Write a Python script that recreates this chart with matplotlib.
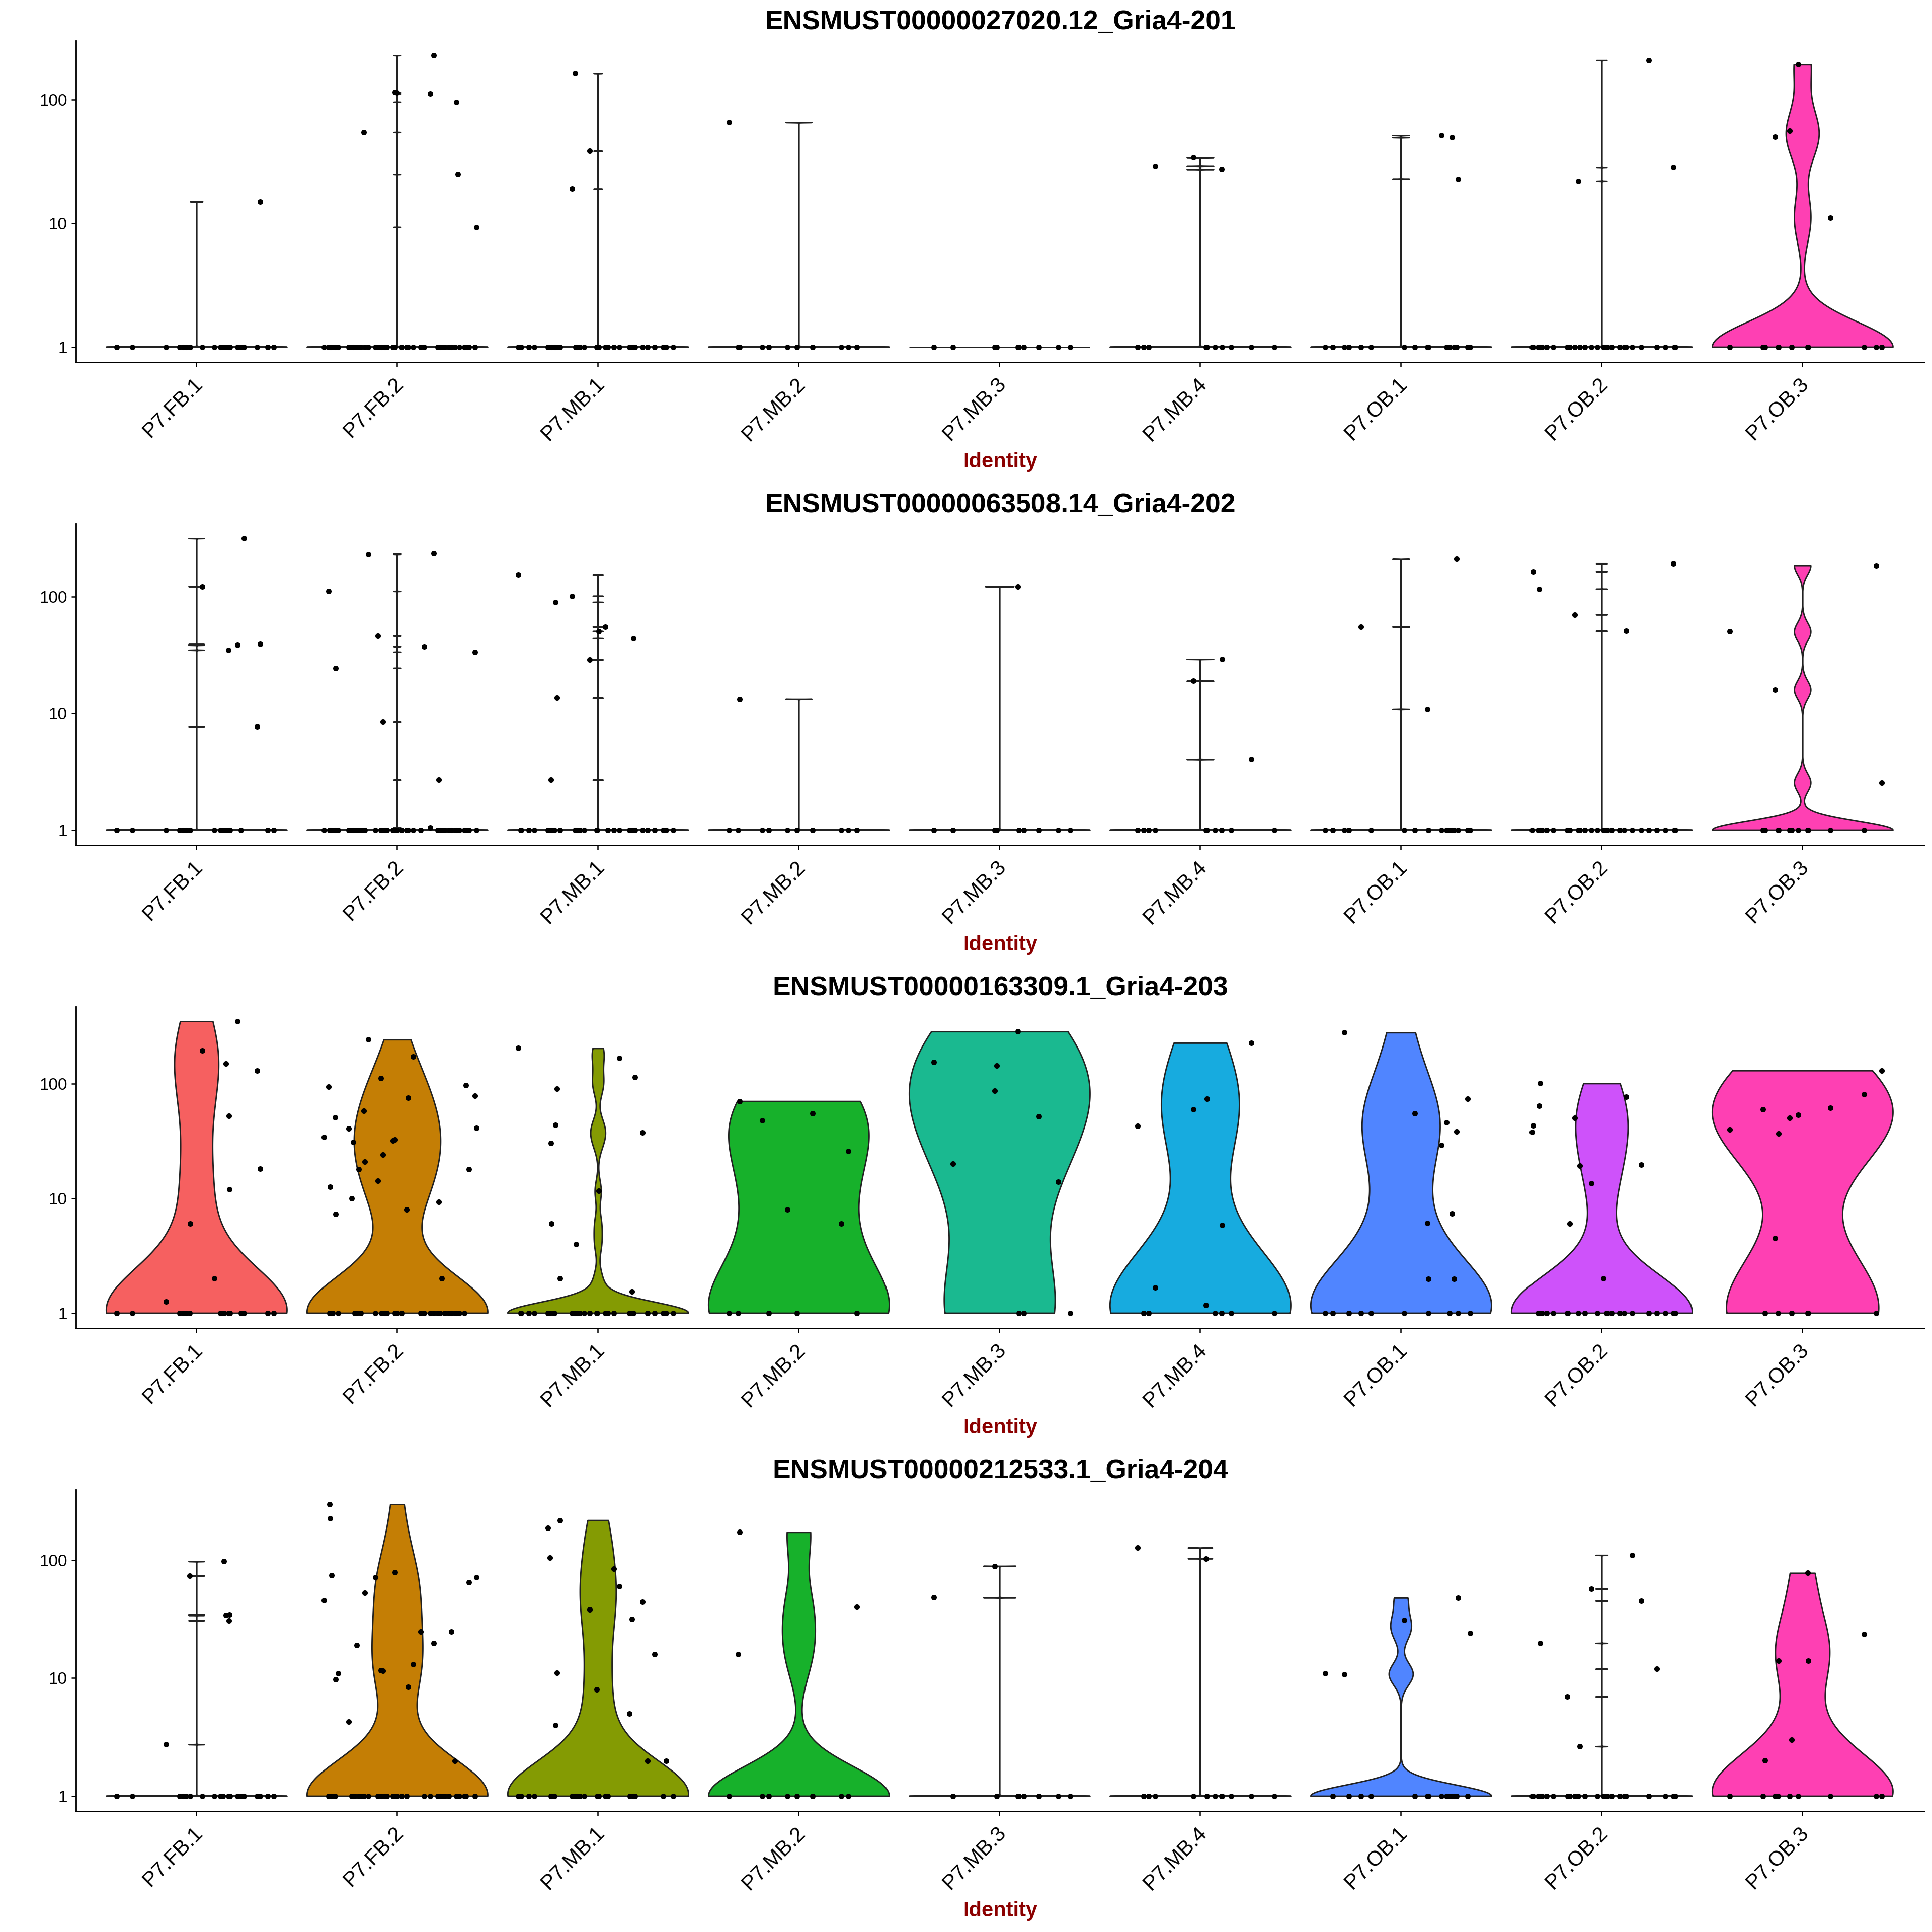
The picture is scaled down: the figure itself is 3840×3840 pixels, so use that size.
import numpy as np
import matplotlib
matplotlib.use("Agg")
import matplotlib.pyplot as plt
from matplotlib.transforms import ScaledTranslation

plt.rcParams['font.family'] = ['Liberation Sans', 'DejaVu Sans']

CATEGORIES = ["P7.FB.1", "P7.FB.2", "P7.MB.1", "P7.MB.2", "P7.MB.3", "P7.MB.4", "P7.OB.1", "P7.OB.2", "P7.OB.3"]
FILLS = ["#F66060", "#C47E05", "#849B03", "#17B12B", "#1AB990", "#17ABDF", "#5085FF", "#CE52FA", "#FE40B3"]
TITLES = ["ENSMUST00000027020.12_Gria4-201", "ENSMUST00000063508.14_Gria4-202",
          "ENSMUST00000163309.1_Gria4-203", "ENSMUST00000212533.1_Gria4-204"]
Y_TICKS = [1, 10, 100]

# Horizontal jitter of every cell (reading units per group)
READ_CENTER = [301, 801, 1302, 270, 792, 1313, 255, 756, 1257]
READ_UNIT = [500, 500, 500, 521, 521, 521, 500, 500, 500]
CELLS_FB1 = [103,141,225,259,268,276,284,286,315,345,361,367,370,374,381,382,383,384,403,412,420,452,460,478,493]
CELLS_FB2 = [619,630,632,634,636,637,640,646,647,654,680,688,692,695,700,705,710,718,720,729,746,753,760,762,766,769,772,776,791,795,796,800,812,824,828,840,859,868,883,892,902,905,908,912,920,930,936,944,948,952,956,968,972,980,995,998]
CELLS_MB1 = [1104,1110,1111,1130,1144,1178,1182,1185,1186,1193,1194,1196,1200,1207,1237,1245,1246,1248,1250,1256,1257,1268,1281,1299,1300,1304,1320,1326,1342,1356,1381,1382,1387,1390,1394,1413,1426,1443,1465,1472,1490]
CELLS_MB2 = [89,113,117,176,192,241,265,306,380,399,421]
CELLS_MB3 = [622,671,780,785,840,843,855,894,944,975]
CELLS_MB4 = [1151,1166,1179,1196,1296,1328,1331,1351,1369,1370,1394,1446,1506]
CELLS_OB1 = [67,85,114,126,156,181,263,289,321,323,324,356,369,376,382,387,394,397,421,427]
CELLS_OB2 = [583,585,597,600,602,603,608,619,635,670,672,677,689,698,702,714,731,745,760,768,770,781,800,812,817,832,855,873,893,915,935,937,940]
CELLS_OB3 = [1076,1159,1164,1189,1196,1198,1225,1230,1246,1270,1271,1327,1411,1441,1454]
CELLS = [CELLS_FB1, CELLS_FB2, CELLS_MB1, CELLS_MB2, CELLS_MB3, CELLS_MB4, CELLS_OB1, CELLS_OB2, CELLS_OB3]

# Cells above 1, per group: (jitter reading, expression). Every other cell sits at 1.
PANEL_201 = [
    [(460,15)],
    [(718,54.6),(795,115),(800,114),(892,229),(883,112),(948,96),(952,25),(998,9.3)],
    [(1245,163),(1281,38.5),(1237,19)],
    [(89,65.7)],
    [],
    [(1296,34),(1196,29.2),(1369,27.4)],
    [(356,51.6),(382,49.6),(397,22.9)],
    [(873,209),(935,28.5),(698,22)],
    [(1246,193),(1189,50),(1225,56),(1327,11.1)],
]
PANEL_202 = [
    [(420,315),(315,122),(403,38.4),(381,34.8),(460,39),(452,7.7)],
    [(730,229),(892,234),(630,111),(753,46),(868,37.4),(995,33.5),(647,24.4),(766,8.4),(905,2.68),(883,1.05)],
    [(1104,154),(1237,101),(1196,89.5),(1320,55),(1304,50.4),(1390,43.8),(1281,28.8),(1200,13.5),(1185,2.68)],
    [(117,13.2)],
    [(840,122)],
    [(1370,29.1),(1296,18.9),(1446,4.02)],
    [(394,209),(156,55),(321,10.8)],
    [(585,164),(600,116),(935,192),(689,70),(817,50.6)],
    [(1441,185),(1076,50),(1189,15.9),(1454,2.54)],
]
PANEL_203 = [
    [(403,352),(315,196),(374,150),(452,130),(382,52.8),(460,18.1),(383,12),(286,6),(345,2),(225,1.25)],
    [(730,244),(840,173),(760,112.5),(630,94.6),(972,97),(995,79),(828,75.6),(718,58.3),(646,51),(998,41.4),(680,40.6),(619,34.4),(791,32),(796,32.7),(692,31),(766,24),(720,21),(705,18),(980,17.9),(753,14.3),(634,12.6),(688,10),(905,9.3),(824,8),(647,7.3),(912,2)],
    [(1104,205),(1356,168),(1394,115),(1200,90.5),(1196,44),(1413,37.7),(1185,30.4),(1304,11.6),(1186,6),(1248,4),(1207,2),(1387,1.53)],
    [(117,70.7),(176,47.9),(306,55),(399,26),(241,8),(380,6)],
    [(840,287),(622,155),(785,145),(780,87.4),(894,52),(671,20),(944,14)],
    [(1446,228),(1331,73.8),(1296,59.7),(1151,42.9),(1370,5.84),(1196,1.67),(1328,1.17)],
    [(114,281),(421,74),(289,55),(369,46),(394,38.4),(356,29.3),(382,7.35),(321,6.07),(323,1.98),(387,1.98)],
    [(602,101),(600,64),(585,43.5),(583,38),(689,50.6),(817,77.4),(702,19.3),(855,19.6),(731,13.6),(677,6),(760,2)],
    [(1454,131),(1411,81),(1327,61.8),(1159,60),(1246,53.6),(1225,50.6),(1076,40),(1198,36.9),(1189,4.5)],
]
PANEL_204 = [
    [(370,97.4),(284,73.5),(374,34),(383,34.6),(382,30.7),(225,2.73)],
    [(632,296),(634,225),(637,74.4),(746,71.4),(795,78.3),(720,52.5),(619,45.3),(859,24.8),(936,24.8),(980,64.8),(998,71),(892,19.6),(700,18.9),(654,10.9),(647,9.7),(840,13.1),(760,11.6),(766,11.5),(828,8.4),(680,4.27),(944,1.98)],
    [(1207,217),(1178,186),(1182,105),(1342,84.5),(1356,59.6),(1413,44.2),(1281,38.1),(1387,31.7),(1443,15.9),(1200,11),(1299,7.95),(1381,4.96),(1196,3.97),(1426,1.98),(1472,1.98)],
    [(117,172),(113,15.9),(421,39.8)],
    [(780,88.9),(622,47.9)],
    [(1151,127),(1328,103)],
    [(67,10.9),(114,10.7),(263,30.8),(397,47.7),(427,23.9)],
    [(832,110),(731,56.9),(855,45),(602,19.7),(893,11.9),(670,6.95),(702,2.63)],
    [(1270,77.6),(1411,23.6),(1198,14),(1271,13.9),(1230,2.98),(1164,2)],
]
PANELS = [PANEL_201, PANEL_202, PANEL_203, PANEL_204]

NOISE = 0.00217  # log10 spread of the tiny noise on the cells at 1
SINGLE_GAIN = 0.7


def split_cells(cells, raised):
    free = list(cells)
    xs, ys = [], []
    for r, v in raised:
        j = int(np.argmin([abs(c - r) for c in free]))
        xs.append(free.pop(j))
        ys.append(v)
    xs += free
    ys += [1.0] * len(free)
    return np.array(xs, float), np.array(ys, float)


def violin(ys):
    L = np.log10(ys)
    n = len(L)
    hi = L.std(ddof=1) if L.max() > 0 else 0
    q1, q3 = np.percentile(L, [25, 75])
    lo = min(hi, (q3 - q1) / 1.34) if q3 > q1 else 0
    if lo > 0:
        bw, base = 0.9 * lo * n ** -0.2, None
    else:
        bw = 0.9 * NOISE * n ** -0.2
        base = np.hypot(bw, NOISE)
    top = L.max()
    parts = [np.linspace(0, top, 2048)]
    if base is not None:
        for v in np.unique(L):
            s = base if v == 0 else bw
            parts.append(v + s * np.linspace(-5, 5, 61))
    g = np.unique(np.concatenate(parts))
    g = g[(g >= 0) & (g <= top)]
    d = np.zeros_like(g)
    for v in L:
        if base is not None:
            s, a = (base, 1.0) if v == 0 else (bw, SINGLE_GAIN)
        else:
            s, a = bw, 1.0
        d += a * np.exp(-0.5 * ((g - v) / s) ** 2) / s
    return g, d / d.max()


fig = plt.figure(figsize=(16, 16), dpi=240)
W = H = 3840.0
label_shift = ScaledTranslation(7 / 240, 12 / 240, fig.dpi_scale_trans)
for p, panel in enumerate(PANELS):
    top_px, bot_px = 81 + 960 * p, 720 + 960 * p
    ax = fig.add_axes([151 / W, 1 - bot_px / H, (3825 - 151) / W, (bot_px - top_px) / H])
    peak = 0
    for c, raised in enumerate(panel):
        xs, ys = split_cells(CELLS[c], raised)
        peak = max(peak, ys.max())
        g, d = violin(ys)
        ax.fill_betweenx(10 ** g, c + 1 - 0.45 * d, c + 1 + 0.45 * d, facecolor=FILLS[c],
                         edgecolor='#222222', linewidth=0.85, zorder=2)
        ax.scatter(c + 1 + (xs - READ_CENTER[c]) / READ_UNIT[c], ys, s=11, c='black',
                   linewidths=0, zorder=3)
    ax.set_yscale('log')
    hi = np.log10(peak)
    R = hi / (1 - 0.0477 - 0.0454)
    ax.set_ylim(10 ** (-0.0477 * R), 10 ** (hi + 0.0454 * R))
    ax.set_xlim(0.4, 0.4 + (3825 - 151) / 399)
    ax.set_yticks(Y_TICKS, [str(t) for t in Y_TICKS])
    ax.minorticks_off()
    ax.set_xticks(range(1, 10))
    ax.tick_params(axis='y', labelsize=10, length=2.7, width=0.75, pad=2.5)
    ax.tick_params(axis='x', length=2.7, width=0.75, pad=12)
    ax.set_xticklabels(CATEGORIES, rotation=45, ha='right', va='center', rotation_mode='anchor', fontsize=12.5)
    for lab in ax.get_xticklabels():
        lab.set_transform(lab.get_transform() + label_shift)
    for s in ('top', 'right'):
        ax.spines[s].set_visible(False)
    for s in ('left', 'bottom'):
        ax.spines[s].set_linewidth(0.85)
    ax.set_xlabel('Identity', fontsize=12.5, fontweight='bold', color='#8B0000')
    ax.xaxis.set_label_coords(0.5, (720 - 918) / 639)
    ax.xaxis.label.set_va('center')
    ax.text(0.5, (720 - 44) / 639, TITLES[p], transform=ax.transAxes, fontsize=16, fontweight='bold',
            ha='center', va='center')

fig.savefig('out.png', dpi=240, facecolor='white')
